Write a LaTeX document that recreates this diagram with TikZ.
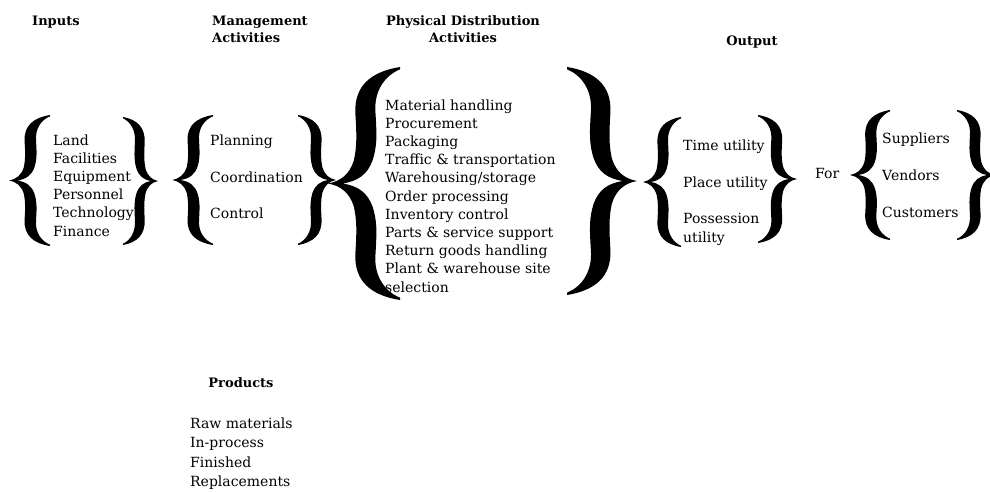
\documentclass[tikz,border=0pt]{standalone}
\usepackage{fontspec}
\setmainfont{DejaVu Serif}
\begin{document}
\begin{tikzpicture}[x=1pt,y=-1pt,
  item/.style={anchor=base west,inner sep=0pt,font=\fontsize{14}{16}\selectfont},
  head/.style={anchor=base west,inner sep=0pt,font=\fontsize{13}{15}\bfseries\selectfont},
  headc/.style={anchor=base,inner sep=0pt,font=\fontsize{13}{15}\bfseries\selectfont}]
\useasboundingbox (0,0) rectangle (990,491);
\clip (0,0) rectangle (990,491);
\newcommand{\bracepath}{(1,0) .. controls (0.6,0.02) and (0.36,0.08) .. (0.38,0.2)
  .. controls (0.4,0.3) and (0.4,0.34) .. (0.36,0.4) .. controls (0.3,0.46) and (0.18,0.49) .. (0,0.5)
  .. controls (0.18,0.51) and (0.3,0.54) .. (0.36,0.6)
  .. controls (0.4,0.66) and (0.4,0.7) .. (0.38,0.8) .. controls (0.36,0.92) and (0.6,0.98) .. (1,1)
  -- (1,0.99) .. controls (0.8,0.965) and (0.63,0.9) .. (0.66,0.8)
  .. controls (0.68,0.7) and (0.68,0.66) .. (0.62,0.6) .. controls (0.55,0.54) and (0.42,0.51) .. (0.2,0.5)
  .. controls (0.42,0.49) and (0.55,0.46) .. (0.62,0.4)
  .. controls (0.68,0.34) and (0.68,0.3) .. (0.66,0.2) .. controls (0.63,0.1) and (0.8,0.035) .. (1,0.01) -- cycle}
\newcommand{\drawbrace}[4]{\begin{scope}[shift={(#1,#2)},xscale=#3,yscale=#4]\fill \bracepath;\end{scope}}
% braces
\drawbrace{9}{115}{41}{131}
\drawbrace{158}{117}{-35}{128}
\drawbrace{172}{115}{41}{130}
\drawbrace{336}{115}{-38}{130}
\drawbrace{328}{67}{72}{233}
\drawbrace{637}{67}{-70}{228}
\drawbrace{643}{117}{38}{130}
\drawbrace{797}{115}{-39}{128}
\drawbrace{850}{110}{40}{130}
\drawbrace{995}{110}{-38}{130}
% headings
\node[head] (hin) at (32,25) {Inputs};
\node[head] (hman1) at (212,25) {Management};
\node[head] (hman2) at (212,42) {Activities};
\node[headc] (hpd1) at (463,25) {Physical Distribution};
\node[headc] (hpd2) at (463,42) {Activities};
\node[headc] (hout) at (752,45) {Output};
\node[headc] (hprod) at (241,387) {Products};
% inputs
\foreach \t [count=\i from 0] in {Land,Facilities,Equipment,Personnel,Technology,Finance}
  \node[item] (in\i) at (53,145+18.2*\i) {\t};
% management
\node[item] (m1) at (210,145) {Planning};
\node[item] (m2) at (210,182) {Coordination};
\node[item] (m3) at (210,218) {Control};
% physical distribution
\foreach \t [count=\i from 0] in {Material handling,Procurement,Packaging,Traffic \& transportation,Warehousing/storage,Order processing,Inventory control,Parts \& service support,Return goods handling,Plant \& warehouse site,selection}
  \node[item] (pd\i) at (385,110+18.2*\i) {\t};
% output
\node[item] (o1) at (683,150) {Time utility};
\node[item] (o2) at (683,187) {Place utility};
\node[item] (o3) at (683,223) {Possession};
\node[item] (o4) at (683,242) {utility};
% for
\node[item] (for) at (815,178) {For};
\node[item] (f1) at (882,143) {Suppliers};
\node[item] (f2) at (882,180) {Vendors};
\node[item] (f3) at (882,217) {Customers};
% products
\node[item] (p1) at (190,428) {Raw materials};
\node[item] (p2) at (190,447) {In-process};
\node[item] (p3) at (190,467) {Finished};
\node[item] (p4) at (190,486) {Replacements};
\end{tikzpicture}
\end{document}
